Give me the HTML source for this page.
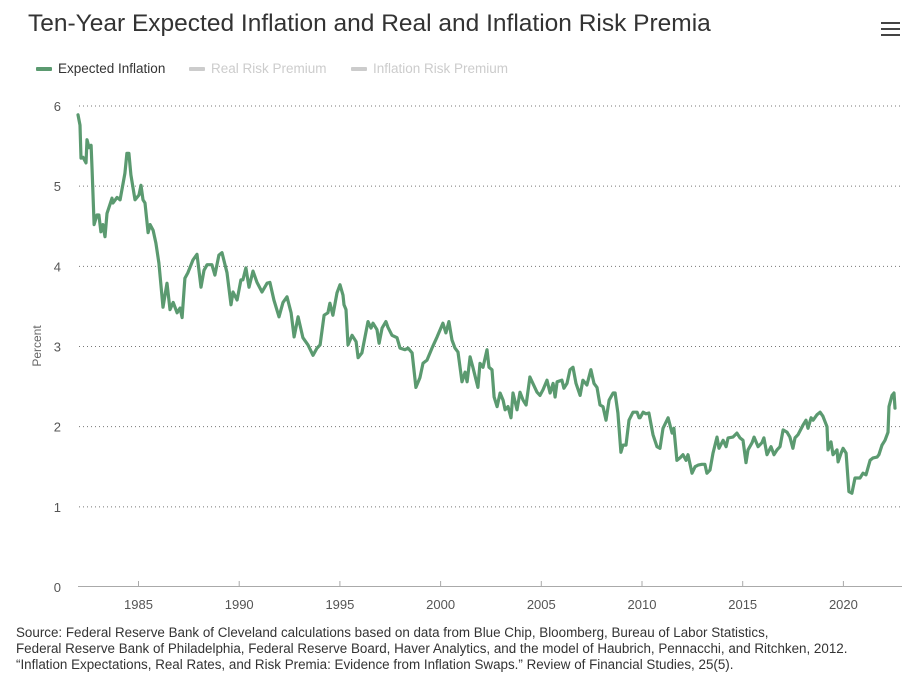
<!DOCTYPE html>
<html><head><meta charset="utf-8">
<style>
body{margin:0;background:#fff;width:924px;height:688px;overflow:hidden;font-family:"Liberation Sans",Arial,sans-serif;}
#title{position:absolute;left:28px;top:10px;font-size:24.5px;color:#333;}
#menu{position:absolute;left:881px;top:22px;width:19px;height:16px;}
#menu div{height:2px;background:#444;margin-bottom:4px;}
.leg{position:absolute;top:61px;font-size:13.5px;}
.leg span.sw{display:inline-block;width:16px;height:4px;margin-right:6px;vertical-align:middle;border-radius:1px;}
#source{position:absolute;left:16px;top:625px;font-size:13.4px;color:#333;line-height:16px;}
</style></head><body>
<div id="title">Ten-Year Expected Inflation and Real and Inflation Risk Premia</div>
<div id="menu"><div></div><div></div><div></div></div>
<div class="leg" style="left:36px;color:#333"><span class="sw" style="background:#5b9a70"></span>Expected Inflation</div>
<div class="leg" style="left:189px;color:#ccc"><span class="sw" style="background:#ccc"></span>Real Risk Premium</div>
<div class="leg" style="left:351px;color:#ccc"><span class="sw" style="background:#ccc"></span>Inflation Risk Premium</div>
<svg id="chart" width="924" height="688" style="position:absolute;left:0;top:0"></svg>
<div id="source">Source: Federal Reserve Bank of Cleveland calculations based on data from Blue Chip, Bloomberg, Bureau of Labor Statistics,<br>Federal Reserve Bank of Philadelphia, Federal Reserve Board, Haver Analytics, and the model of Haubrich, Pennacchi, and Ritchken, 2012.<br>“Inflation Expectations, Real Rates, and Risk Premia: Evidence from Inflation Swaps.” Review of Financial Studies, 25(5).</div>
<script>
const yTicks=[0,1,2,3,4,5,6];
const xTicks=[1985,1990,1995,2000,2005,2010,2015,2020];
const years=[1981.92,1982.02,1982.07,1982.17,1982.32,1982.37,1982.47,1982.57,1982.62,1982.72,1982.86,1982.96,1983.06,1983.16,1983.26,1983.36,1983.61,1983.66,1983.86,1984.01,1984.25,1984.35,1984.45,1984.55,1984.75,1984.95,1985.05,1985.15,1985.25,1985.40,1985.50,1985.65,1985.79,1985.94,1986.14,1986.34,1986.49,1986.65,1986.84,1986.99,1987.09,1987.23,1987.38,1987.63,1987.83,1988.03,1988.18,1988.33,1988.57,1988.72,1988.92,1989.07,1989.32,1989.52,1989.62,1989.82,1990.01,1990.11,1990.26,1990.41,1990.61,1990.81,1991.06,1991.31,1991.45,1991.65,1991.90,1992.10,1992.30,1992.50,1992.65,1992.85,1993.09,1993.34,1993.59,1993.79,1993.94,1994.14,1994.33,1994.43,1994.58,1994.78,1994.93,1995.08,
1995.13,1995.23,1995.33,1995.53,1995.73,1995.83,1996.02,1996.17,1996.32,1996.47,1996.57,1996.77,1996.87,1997.02,1997.21,1997.31,1997.51,1997.76,1997.91,1998.16,1998.31,1998.51,1998.70,1998.90,1999.05,1999.25,1999.50,1999.75,2000.04,2000.19,2000.34,2000.49,2000.64,2000.79,2000.99,2001.14,2001.24,2001.39,2001.53,2001.78,2001.88,2002.03,2002.23,2002.33,2002.48,2002.58,2002.73,2002.88,2003.03,2003.13,2003.27,2003.42,2003.52,2003.72,2003.87,2004.02,2004.17,2004.36,2004.51,2004.71,2004.86,2005.01,2005.21,2005.36,2005.51,2005.61,2005.71,2005.95,2006.05,2006.20,2006.35,2006.50,2006.65,2006.85,2006.99,2007.19,2007.39,2007.54,2007.69,2007.84,2007.99,2008.14,2008.29,2008.49,2008.59,2008.73,2008.88,2008.98,2009.13,2009.28,2009.48,2009.68,2009.78,
2009.83,2009.98,2010.12,2010.27,2010.47,2010.67,2010.82,2010.97,2011.22,2011.42,2011.51,2011.66,2011.81,2011.96,2012.11,2012.21,2012.41,2012.56,2012.71,2012.90,2013.05,2013.15,2013.30,2013.45,2013.65,2013.75,2013.95,2014.10,2014.20,2014.44,2014.64,2014.79,2014.94,2015.09,2015.19,2015.39,2015.49,2015.69,2015.88,2015.98,2016.13,2016.33,2016.48,2016.63,2016.78,2016.93,2017.13,2017.27,2017.42,2017.52,2017.67,2017.92,2018.07,2018.17,2018.32,2018.42,2018.62,2018.77,2018.91,2019.11,2019.16,2019.31,2019.41,2019.61,2019.66,2019.81,2019.91,2020.06,2020.20,2020.35,2020.50,2020.75,2020.90,2021.05,2021.25,2021.40,2021.60,2021.69,2021.84,2021.99,2022.14,2022.19,2022.34,2022.44,2022.49];
const expectedInflation=[5.89,5.76,5.35,5.36,5.29,5.58,5.48,5.51,5.20,4.52,4.64,4.64,4.43,4.52,4.37,4.66,4.85,4.79,4.86,4.83,5.16,5.41,5.41,5.14,4.83,4.89,5.01,4.83,4.79,4.42,4.52,4.45,4.29,4.04,3.49,3.79,3.46,3.55,3.42,3.48,3.36,3.85,3.92,4.08,4.15,3.74,3.95,4.02,4.02,3.89,4.14,4.17,3.92,3.52,3.68,3.58,3.83,3.83,3.98,3.74,3.94,3.80,3.68,3.79,3.80,3.58,3.37,3.55,3.62,3.42,3.12,3.37,3.11,3.02,2.89,2.98,3.02,3.39,3.42,3.54,3.39,3.67,3.77,3.64,
3.52,3.46,3.02,3.14,3.06,2.86,2.92,3.12,3.31,3.23,3.29,3.21,3.04,3.23,3.31,3.24,3.14,3.11,2.98,2.96,2.98,2.92,2.49,2.61,2.79,2.83,2.98,3.12,3.29,3.17,3.31,3.08,2.98,2.93,2.56,2.68,2.56,2.87,2.74,2.49,2.79,2.74,2.96,2.74,2.71,2.37,2.25,2.42,2.33,2.21,2.25,2.11,2.42,2.21,2.43,2.33,2.27,2.62,2.54,2.43,2.39,2.46,2.58,2.42,2.54,2.37,2.56,2.58,2.48,2.54,2.71,2.74,2.54,2.39,2.58,2.52,2.71,2.54,2.49,2.27,2.25,2.08,2.33,2.42,2.42,2.17,1.68,1.77,1.77,2.08,2.18,2.18,2.11,
2.11,2.18,2.16,2.17,1.90,1.75,1.73,1.98,2.11,1.92,1.98,1.58,1.61,1.65,1.58,1.65,1.42,1.50,1.52,1.53,1.53,1.42,1.46,1.67,1.87,1.73,1.83,1.75,1.86,1.87,1.92,1.86,1.83,1.55,1.71,1.80,1.87,1.75,1.80,1.86,1.65,1.75,1.65,1.71,1.75,1.96,1.93,1.87,1.73,1.86,1.90,2.02,2.08,1.98,2.11,2.08,2.15,2.18,2.13,2.00,1.71,1.81,1.65,1.71,1.56,1.67,1.73,1.67,1.19,1.17,1.36,1.36,1.42,1.40,1.58,1.61,1.62,1.65,1.77,1.83,1.93,2.25,2.39,2.42,2.23];

const svg=document.getElementById('chart');
const NS='http://www.w3.org/2000/svg';
function X(yr){return 140+(yr-1985)*20.14;}
function Y(v){return 587-v*80.17;}
function mk(tag,attrs,parent){const e=document.createElementNS(NS,tag);for(const k in attrs)e.setAttribute(k,attrs[k]);(parent||svg).appendChild(e);return e;}

yTicks.forEach(t=>{
  if(t>0){
    const g=mk('line',{x1:79,x2:902,y1:Y(t),y2:Y(t),stroke:'#777','stroke-width':1,'stroke-dasharray':'1,3'});
    
    
  }
  const tx=mk('text',{x:61,y:Y(t)+5,'text-anchor':'end','font-size':13,fill:'#555','font-family':'Liberation Sans, sans-serif'});
  tx.textContent=t;
  
  
});
const base=mk('line',{x1:78,x2:902,y1:586.5,y2:586.5,stroke:'#aaa','stroke-width':1});


xTicks.forEach(t=>{
  const tk=mk('line',{x1:X(t)-1.5,x2:X(t)-1.5,y1:581,y2:587,stroke:'#aaa','stroke-width':1});
  
  
  const tx=mk('text',{x:X(t)-1.5,y:609,'text-anchor':'middle','font-size':13,fill:'#555','font-family':'Liberation Sans, sans-serif'});
  tx.textContent=t;
  
  
});
const yt=mk('text',{x:0,y:0,transform:'translate(41,346) rotate(-90)','text-anchor':'middle','font-size':12,fill:'#666','font-family':'Liberation Sans, sans-serif'});
yt.textContent='Percent';



let d='';
years.forEach((yr,i)=>{d+=(i?'L':'M')+X(yr).toFixed(1)+','+Y(expectedInflation[i]).toFixed(1);});
const line=mk('path',{d:d,fill:'none',stroke:'#5b9a70','stroke-width':3.2,'stroke-linejoin':'round','stroke-linecap':'round'});


</script>
</body></html>
